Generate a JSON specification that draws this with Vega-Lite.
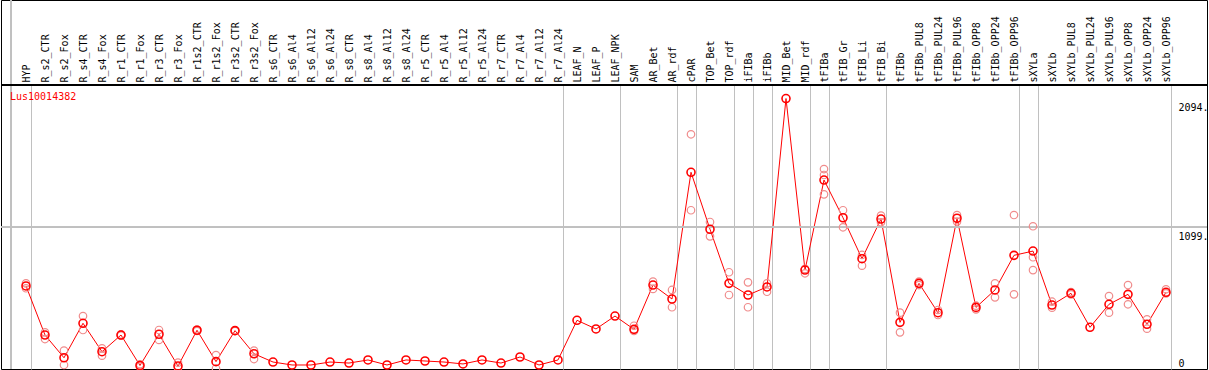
{
  "$schema": "https://vega.github.io/schema/vega-lite/v6.json",
  "width": 1206,
  "height": 369,
  "autosize": {"type": "none"},
  "padding": {"left": 1, "top": 0, "right": 2, "bottom": 1},
  "background": "white",
  "config": {"view": {"stroke": "black", "strokeWidth": 1}, "font": "DejaVu Sans Mono"},
  "title": {"text": "Lus10014382", "anchor": "start", "frame": "group", "orient": "top", "offset": -102, "dx": 9, "color": "#ff0000", "font": "DejaVu Sans Mono", "fontSize": 10, "fontWeight": "normal"},
  "datasets": {
    "means": [
      {"sample": "HYP", "value": 643}, {"sample": "R_s2_CTR", "value": 263}, {"sample": "R_s2_Fox", "value": 87},
      {"sample": "R_s4_CTR", "value": 354}, {"sample": "R_s4_Fox", "value": 134}, {"sample": "R_r1_CTR", "value": 263},
      {"sample": "R_r1_Fox", "value": 27}, {"sample": "R_r3_CTR", "value": 269}, {"sample": "R_r3_Fox", "value": 23},
      {"sample": "R_r1s2_CTR", "value": 300}, {"sample": "R_r1s2_Fox", "value": 57}, {"sample": "R_r3s2_CTR", "value": 297},
      {"sample": "R_r3s2_Fox", "value": 118}, {"sample": "R_s6_CTR", "value": 54}, {"sample": "R_s6_Al4", "value": 31},
      {"sample": "R_s6_Al12", "value": 31}, {"sample": "R_s6_Al24", "value": 54}, {"sample": "R_s8_CTR", "value": 46},
      {"sample": "R_s8_Al4", "value": 70}, {"sample": "R_s8_Al12", "value": 31}, {"sample": "R_s8_Al24", "value": 70},
      {"sample": "R_r5_CTR", "value": 62}, {"sample": "R_r5_Al4", "value": 54}, {"sample": "R_r5_Al12", "value": 39},
      {"sample": "R_r5_Al24", "value": 70}, {"sample": "R_r7_CTR", "value": 46}, {"sample": "R_r7_Al4", "value": 93},
      {"sample": "R_r7_Al12", "value": 31}, {"sample": "R_r7_Al24", "value": 70}, {"sample": "LEAF_N", "value": 377},
      {"sample": "LEAF_P", "value": 310}, {"sample": "LEAF_NPK", "value": 410}, {"sample": "SAM", "value": 307},
      {"sample": "AR_Bet", "value": 650}, {"sample": "AR_rdf", "value": 542}, {"sample": "cPAR", "value": 1523},
      {"sample": "TOP_Bet", "value": 1082}, {"sample": "TOP_rdf", "value": 663}, {"sample": "iFIBa", "value": 573},
      {"sample": "iFIBb", "value": 635}, {"sample": "MID_Bet", "value": 2094}, {"sample": "MID_rdf", "value": 766},
      {"sample": "tFIBa", "value": 1463}, {"sample": "tFIB_Gr", "value": 1171}, {"sample": "tFIB_Li", "value": 854},
      {"sample": "tFIB_Bi", "value": 1161}, {"sample": "tFIBb", "value": 361}, {"sample": "tFIBb_PUL8", "value": 663},
      {"sample": "tFIBb_PUL24", "value": 436}, {"sample": "tFIBb_PUL96", "value": 1167}, {"sample": "tFIBb_OPP8", "value": 477},
      {"sample": "tFIBb_OPP24", "value": 612}, {"sample": "tFIBb_OPP96", "value": 880}, {"sample": "sXYLa", "value": 913},
      {"sample": "sXYLb", "value": 495}, {"sample": "sXYLb_PUL8", "value": 586}, {"sample": "sXYLb_PUL24", "value": 323},
      {"sample": "sXYLb_PUL96", "value": 501}, {"sample": "sXYLb_OPP8", "value": 578}, {"sample": "sXYLb_OPP24", "value": 346},
      {"sample": "sXYLb_OPP96", "value": 594}
    ],
    "reps": [
      {"sample": "HYP", "value": 663}, {"sample": "HYP", "value": 625},
      {"sample": "R_s2_CTR", "value": 284}, {"sample": "R_s2_CTR", "value": 232},
      {"sample": "R_s2_Fox", "value": 142}, {"sample": "R_s2_Fox", "value": 31},
      {"sample": "R_s4_CTR", "value": 410}, {"sample": "R_s4_CTR", "value": 302},
      {"sample": "R_s4_Fox", "value": 160}, {"sample": "R_s4_Fox", "value": 103},
      {"sample": "R_r1_CTR", "value": 268}, {"sample": "R_r1_CTR", "value": 258},
      {"sample": "R_r1_Fox", "value": 37}, {"sample": "R_r1_Fox", "value": 18},
      {"sample": "R_r3_CTR", "value": 302}, {"sample": "R_r3_CTR", "value": 225},
      {"sample": "R_r3_Fox", "value": 49}, {"sample": "R_r3_Fox", "value": 8},
      {"sample": "R_r1s2_CTR", "value": 306}, {"sample": "R_r1s2_CTR", "value": 294},
      {"sample": "R_r1s2_Fox", "value": 108}, {"sample": "R_r1s2_Fox", "value": 4},
      {"sample": "R_r3s2_CTR", "value": 300}, {"sample": "R_r3s2_CTR", "value": 294},
      {"sample": "R_r3s2_Fox", "value": 142}, {"sample": "R_r3s2_Fox", "value": 77},
      {"sample": "SAM", "value": 335}, {"sample": "SAM", "value": 294},
      {"sample": "AR_Bet", "value": 676}, {"sample": "AR_Bet", "value": 620},
      {"sample": "AR_rdf", "value": 612}, {"sample": "AR_rdf", "value": 478},
      {"sample": "cPAR", "value": 1817}, {"sample": "cPAR", "value": 1229},
      {"sample": "TOP_Bet", "value": 1138}, {"sample": "TOP_Bet", "value": 1027},
      {"sample": "TOP_rdf", "value": 749}, {"sample": "TOP_rdf", "value": 573},
      {"sample": "iFIBa", "value": 671}, {"sample": "iFIBa", "value": 478},
      {"sample": "iFIBb", "value": 663}, {"sample": "iFIBb", "value": 598},
      {"sample": "MID_rdf", "value": 741}, {"sample": "MID_rdf", "value": 775},
      {"sample": "tFIBa", "value": 1548}, {"sample": "tFIBa", "value": 1502}, {"sample": "tFIBa", "value": 1352},
      {"sample": "tFIB_Gr", "value": 1229}, {"sample": "tFIB_Gr", "value": 1097},
      {"sample": "tFIB_Li", "value": 883}, {"sample": "tFIB_Li", "value": 800},
      {"sample": "tFIB_Bi", "value": 1187}, {"sample": "tFIB_Bi", "value": 1136},
      {"sample": "tFIBb", "value": 436}, {"sample": "tFIBb", "value": 284},
      {"sample": "tFIBb_PUL8", "value": 676}, {"sample": "tFIBb_PUL8", "value": 650},
      {"sample": "tFIBb_PUL24", "value": 457}, {"sample": "tFIBb_PUL24", "value": 418},
      {"sample": "tFIBb_PUL96", "value": 1192}, {"sample": "tFIBb_PUL96", "value": 1141},
      {"sample": "tFIBb_OPP8", "value": 490}, {"sample": "tFIBb_OPP8", "value": 462},
      {"sample": "tFIBb_OPP24", "value": 663}, {"sample": "tFIBb_OPP24", "value": 555},
      {"sample": "tFIBb_OPP96", "value": 1192}, {"sample": "tFIBb_OPP96", "value": 578},
      {"sample": "sXYLa", "value": 1105}, {"sample": "sXYLa", "value": 865}, {"sample": "sXYLa", "value": 766},
      {"sample": "sXYLb", "value": 521}, {"sample": "sXYLb", "value": 475},
      {"sample": "sXYLb_PUL8", "value": 595}, {"sample": "sXYLb_PUL8", "value": 578},
      {"sample": "sXYLb_PUL96", "value": 565}, {"sample": "sXYLb_PUL96", "value": 436},
      {"sample": "sXYLb_OPP8", "value": 650}, {"sample": "sXYLb_OPP8", "value": 501},
      {"sample": "sXYLb_OPP24", "value": 385}, {"sample": "sXYLb_OPP24", "value": 312},
      {"sample": "sXYLb_OPP96", "value": 617}, {"sample": "sXYLb_OPP96", "value": 586}
    ]
  },
  "layer": [
    {
      "data": {"name": "means"},
      "mark": {"type": "line", "color": "#ff0000", "strokeWidth": 1},
      "encoding": {
        "x": {
          "field": "sample", "type": "ordinal",
          "scale": {"type": "point", "padding": 0, "range": [25, 1165], "domain": ["HYP","R_s2_CTR","R_s2_Fox","R_s4_CTR","R_s4_Fox","R_r1_CTR","R_r1_Fox","R_r3_CTR","R_r3_Fox","R_r1s2_CTR","R_r1s2_Fox","R_r3s2_CTR","R_r3s2_Fox","R_s6_CTR","R_s6_Al4","R_s6_Al12","R_s6_Al24","R_s8_CTR","R_s8_Al4","R_s8_Al12","R_s8_Al24","R_r5_CTR","R_r5_Al4","R_r5_Al12","R_r5_Al24","R_r7_CTR","R_r7_Al4","R_r7_Al12","R_r7_Al24","LEAF_N","LEAF_P","LEAF_NPK","SAM","AR_Bet","AR_rdf","cPAR","TOP_Bet","TOP_rdf","iFIBa","iFIBb","MID_Bet","MID_rdf","tFIBa","tFIB_Gr","tFIB_Li","tFIB_Bi","tFIBb","tFIBb_PUL8","tFIBb_PUL24","tFIBb_PUL96","tFIBb_OPP8","tFIBb_OPP24","tFIBb_OPP96","sXYLa","sXYLb","sXYLb_PUL8","sXYLb_PUL24","sXYLb_PUL96","sXYLb_OPP8","sXYLb_OPP24","sXYLb_OPP96"]},
          "axis": {
            "orient": "top", "title": null, "ticks": false, "domain": false,
            "labelAngle": 270, "labelAlign": "left", "labelBaseline": "middle",
            "labelPadding": -82, "labelFont": "DejaVu Sans Mono", "labelFontSize": 10, "labelColor": "black",
            "labelOverlap": false, "labelBound": false, "labelLimit": 0, "labelFlush": false,
            "tickOffset": 5, "labelOffset": -5,
            "grid": true, "gridColor": "#c0c0c0", "gridWidth": 1,
            "gridOpacity": {"condition": {"test": "indexof(['HYP','R_r7_Al24','LEAF_NPK','AR_rdf','cPAR','TOP_rdf','iFIBa','iFIBb','MID_rdf','tFIBa','tFIB_Bi','tFIBb_OPP96','sXYLa','sXYLb_OPP96'], datum.value) >= 0", "value": 1}, "value": 0}
          }
        },
        "y": {
          "field": "value", "type": "quantitative",
          "scale": {"domain": [0, 2198.7], "range": [369, 85], "nice": false, "zero": false},
          "axis": {
            "orient": "right", "title": null, "ticks": false, "domain": false, "grid": false,
            "values": [0, 1099.35, 2094],
            "labelExpr": "datum.value == 0 ? '0' : floor(datum.value) + '.'",
            "labelAlign": "left", "labelBaseline": "top", "labelPadding": -29,
            "labelOffset": {"condition": {"test": "datum.value == 0", "value": -11}, "value": 4},
            "labelFont": "DejaVu Sans Mono", "labelFontSize": 10, "labelColor": "black",
            "labelOverlap": false, "labelBound": false, "labelFlush": false
          }
        }
      }
    },
    {
      "data": {"name": "means"},
      "mark": {"type": "rule", "color": "#c0c0c0", "xOffset": -15},
      "encoding": {"x": {"datum": "HYP", "type": "ordinal"}}
    },
    {
      "data": {"name": "means"},
      "mark": {"type": "rule", "color": "#c0c0c0"},
      "encoding": {"y": {"datum": 1099.35, "type": "quantitative"}}
    },
    {
      "data": {"name": "means"},
      "mark": {"type": "rule", "color": "black"},
      "encoding": {"y": {"datum": 2198.7, "type": "quantitative"}}
    },
    {
      "data": {"name": "reps"},
      "mark": {"type": "point", "shape": "circle", "filled": false, "size": 56, "stroke": "#f08c8c", "strokeWidth": 1.2, "opacity": 1},
      "encoding": {
        "x": {"field": "sample", "type": "ordinal"},
        "y": {"field": "value", "type": "quantitative"}
      }
    },
    {
      "data": {"name": "means"},
      "mark": {"type": "point", "shape": "circle", "filled": false, "size": 64, "stroke": "#ff0000", "strokeWidth": 1.6, "opacity": 1},
      "encoding": {
        "x": {"field": "sample", "type": "ordinal"},
        "y": {"field": "value", "type": "quantitative"}
      }
    }
  ]
}
